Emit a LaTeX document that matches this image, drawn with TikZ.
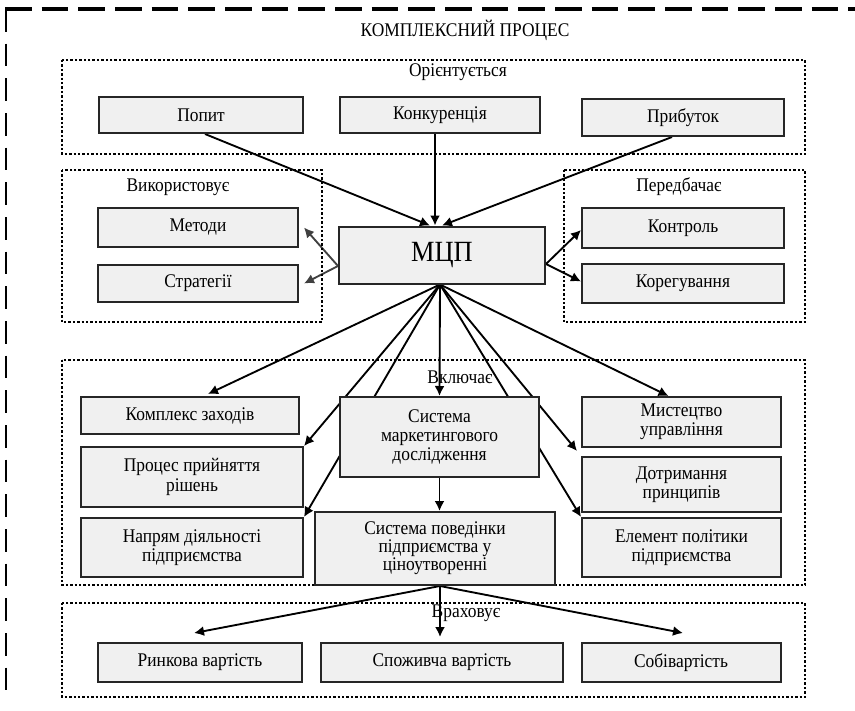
\documentclass[tikz,border=0pt]{standalone}
\usepackage{fontspec}
\setmainfont{Liberation Serif}[FakeStretch=0.9]
\usetikzlibrary{arrows.meta,calc,backgrounds}

\begin{document}
\begin{tikzpicture}[x=0.75pt,y=-0.75pt,
  box/.style={draw=black!85,line width=1.5pt,fill=black!6,inner sep=1pt,align=center,font=\fontsize{14.5}{14.5}\selectfont},
  group/.style={line width=1.8pt,dash pattern=on 1.8pt off 1.5pt},
  lbl/.style={inner sep=0pt,font=\fontsize{14.5}{14.5}\selectfont},
  arr/.style={line width=1.4pt,-{Latex[length=7.5pt,width=7.5pt]}},
  garr/.style={arr,draw=black!75,fill=black!75}]
\useasboundingbox (0,0) rectangle (855,710);
% outer frame
\draw[line width=2.4pt,dash pattern=on 20pt off 7.5pt] (5,9) -- (855,9);
\draw[line width=1.2pt,dash pattern=on 17pt off 9pt] (6,9) -- (6,700);
\node[lbl] (title) at (465,30) {КОМПЛЕКСНИЙ ПРОЦЕС};
% groups
\draw[group] (62,60) rectangle (805,154);
\node[lbl] (orient) at (458,72) {Орієнтується};
\draw[group] (62,170) rectangle (322,322);
\node[lbl] (vykor) at (178,187) {Використовує};
\draw[group] (564,170) rectangle (805,322);
\node[lbl] (peredb) at (679,187) {Передбачає};
\draw[group] (62,360) rectangle (805,585);
\node[lbl] (vkl) at (460,377) {Включає};
\draw[group] (62,603) rectangle (805,697);
\node[lbl] (vrakh) at (466,613) {Враховує};
% boxes
\node[box,minimum width=153pt,minimum height=27pt] (popyt) at (201,115) {Попит};
\node[box,minimum width=150pt,minimum height=27pt] (konk) at (440,115) {Конкуренція};
\node[box,minimum width=151.5pt,minimum height=27.75pt] (prybutok) at (683,117.5) {Прибуток};
\node[box,minimum width=150pt,minimum height=29.25pt] (metody) at (198,227.5) {Методи};
\node[box,minimum width=150pt,minimum height=27.75pt] (strat) at (198,283.5) {Стратегії};
\node[box,minimum width=154.5pt,minimum height=42.75pt,font=\fontsize{22}{24}\selectfont] (mcp) at (442,255) {МЦП};
\node[box,minimum width=151.5pt,minimum height=30pt] (kontrol) at (683,228) {Контроль};
\node[box,minimum width=151.5pt,minimum height=29.25pt] (koreg) at (683,283.5) {Корегування};
\node[box,minimum width=163.5pt,minimum height=27.75pt] (kompleks) at (190,415.5) {Комплекс заходів};
\node[box,minimum width=149.25pt,minimum height=60pt] (smd) at (439.5,437) {Система\\маркетингового\\дослідження};
\node[box,minimum width=149.25pt,minimum height=37.5pt] (mystets) at (681.5,422) {Мистецтво\\управління};
\node[box,minimum width=166.5pt,minimum height=45pt] (protses) at (192,477) {Процес прийняття\\рішень};
\node[box,minimum width=149.25pt,minimum height=41.25pt] (dotrym) at (681.5,484.5) {Дотримання\\принципів};
\node[box,minimum width=166.5pt,minimum height=44.25pt] (napriam) at (192,547.5) {Напрям діяльності\\підприємства};
\node[box,minimum width=180pt,minimum height=54.75pt,font=\fontsize{14.5}{13.6}\selectfont] (spp) at (435,548.5) {Система поведінки\\підприємства у\\ціноутворенні};
\node[box,minimum width=149.25pt,minimum height=44.25pt] (element) at (681.5,547.5) {Елемент політики\\підприємства};
\node[box,minimum width=153pt,minimum height=29.25pt] (rynk) at (200,662.5) {Ринкова вартість};
\node[box,minimum width=181.5pt,minimum height=29.25pt] (spozh) at (442,662.5) {Споживча вартість};
\node[box,minimum width=149.25pt,minimum height=29.25pt] (sobiv) at (681,662.5) {Собівартість};
% connectors
\coordinate (fan) at ($(mcp.south)+(-2,0)$);
\coordinate (low) at ($(spp.south)+(5,0)$);
\begin{scope}[on background layer]
\draw[arr] ($(popyt.south)+(4,0)$) -- ($(mcp.north)+(-12,0)$);
\draw[arr] ($(konk.south)+(-5,0)$) -- ($(mcp.north)+(-7,0)$);
\draw[arr] ($(prybutok.south)+(-11,0)$) -- (mcp.north);
\draw[garr] ($(mcp.west)+(0,11)$) -- ($(metody.east)+(5,0)$);
\draw[garr] ($(mcp.west)+(0,11)$) -- ($(strat.east)+(5,0)$);
\draw[arr] ($(mcp.east)+(0,9)$) -- ($(kontrol.west)+(0,2)$);
\draw[arr] ($(mcp.east)+(0,9)$) -- ($(koreg.west)+(0,-2)$);
\draw[arr] (fan) -- ($(kompleks.north)+(18,-2)$);
\draw[arr] (fan) -- (protses.north east);
\draw[arr] (fan) -- (napriam.north east);
\draw[arr] (fan) -- (smd.north);
\draw[arr] (fan) -- ($(dotrym.north west)+(-4,-5)$);
\draw[arr] (fan) -- (element.north west);
\draw[arr] (fan) -- ($(mystets.north)+(-13,0)$);
\draw[arr] (smd.south) -- (smd.south |- spp.north);
\draw[arr] (low) -- ($(rynk.north)+(-6,-9)$);
\draw[arr] (low) -- ($(spozh.north)+(-2,-5)$);
\draw[arr] (low) -- ($(sobiv.north)+(2,-9)$);
\end{scope}
\end{tikzpicture}
\end{document}
